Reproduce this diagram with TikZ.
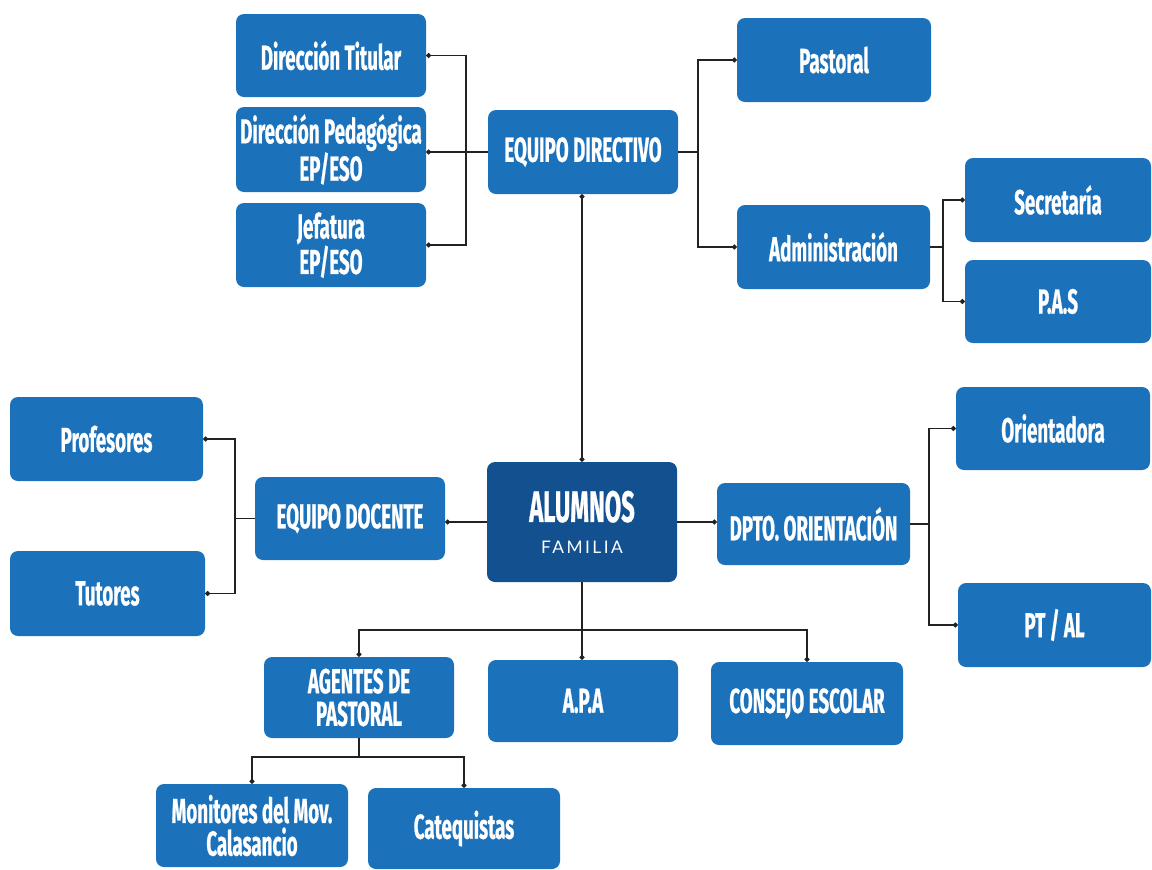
\documentclass[tikz,border=0pt]{standalone}
\usepackage{fontspec}
\usetikzlibrary{arrows.meta}
\newfontfamily\condfont[FakeStretch=0.54,FakeBold=0.6]{Fira Sans}
\newfontfamily\famfont[LetterSpace=14]{Lato}
\definecolor{boxblue}{HTML}{1C72BA}
\definecolor{darkblue}{HTML}{13508F}
\definecolor{linec}{HTML}{222222}
\tikzset{
  box/.style={fill=boxblue, rounded corners=6pt, text=white, inner sep=0pt, align=center,
    font=\condfont\bfseries\fontsize{26}{24.5}\selectfont},
  conn/.style={draw=linec, line width=1.1pt},
  dot/.style={conn, -{Circle[length=3.6pt]}},
  dots/.style={conn, {Circle[length=3.6pt]}-{Circle[length=3.6pt]}}
}
\newcommand\mybox[6][]{%
  \node[box,#1, minimum width={(#4-#2)*0.75pt}, minimum height={(#5-#3)*0.75pt}]
    (#6) at ({(#2+#4)/2},{(#3+#5)/2})}
\begin{document}
\begin{tikzpicture}[x=0.75pt,y=-0.75pt]
\useasboundingbox (0,0) rectangle (1152,869);
\mybox{236}{14}{426}{97}{DT} {Dirección Titular};
\mybox{236}{107}{426}{192}{DP} {Dirección Pedagógica\\EP/ESO};
\mybox{236}{203}{426}{287}{JE} {Jefatura\\EP/ESO};
\mybox{488}{110}{678}{194}{ED} {EQUIPO DIRECTIVO};
\mybox{737}{18}{931}{102}{PA} {Pastoral};
\mybox{737}{205}{930}{289}{AD} {Administración};
\mybox{965}{158}{1151}{242}{SE} {Secretaría};
\mybox{965}{260}{1151}{343}{PS} {P.A.S};
\mybox{10}{397}{203}{481}{PR} {Profesores};
\mybox{10}{551}{205}{636}{TU} {Tutores};
\mybox{255}{477}{445}{560}{EDO} {EQUIPO DOCENTE};
\mybox[fill=darkblue]{487}{462}{677}{582}{AL} {{\fontsize{33}{32}\selectfont ALUMNOS}\\[-1pt]{\famfont\mdseries\fontsize{13}{14}\selectfont FAMILIA}};
\mybox{717}{483}{910}{565}{DO} {DPTO. ORIENTACIÓN};
\mybox{956}{387}{1150}{470}{OR} {Orientadora};
\mybox{958}{583}{1151}{667}{PT} {PT / AL};
\mybox{264}{657}{454}{738}{AG} {AGENTES DE\\PASTORAL};
\mybox{488}{660}{678}{742}{AP} {A.P.A};
\mybox{711}{662}{903}{745}{CE} {CONSEJO ESCOLAR};
\mybox{156}{784}{348}{867}{MO} {Monitores del Mov.\\Calasancio};
\mybox{368}{788}{560}{869}{CA} {Catequistas};
% junctions
\coordinate (j1) at (ED.west -| 466,0);
\coordinate (j2) at (ED.east -| 698,0);
\coordinate (j3) at (AD.east -| 943,0);
\coordinate (j4) at (EDO.west -| 235,0);
\coordinate (j5) at (DO.east -| 929,0);
\coordinate (j6) at (AL.south |- 0,630);
\coordinate (j7) at (AG.south |- 0,757);
% equipo directivo left
\draw[dot] (ED.west) -- (ED.west -| DP.east);
\draw[dot] (j1) |- (DT.east);
\draw[dot] (j1) |- (JE.east);
% equipo directivo right
\draw[conn] (ED.east) -- (j2);
\draw[dot] (j2) |- (PA.west);
\draw[dot] (j2) |- (AD.west);
% administracion
\draw[conn] (AD.east) -- (j3);
\draw[dot] (j3) |- (SE.west);
\draw[dot] (j3) |- (PS.west);
% alumnos - equipo directivo
\draw[dots] (AL.north) -- (AL.north |- ED.south);
% alumnos - equipo docente
\draw[dot] (AL.west) -- (AL.west -| EDO.east);
\draw[conn] (EDO.west) -- (j4);
\draw[dot] (j4) |- (PR.east);
\draw[dot] (j4) |- (TU.east);
% alumnos - dpto orientacion
\draw[dot] (AL.east) -- (AL.east -| DO.west);
\draw[conn] (DO.east) -- (j5);
\draw[dot] (j5) |- (OR.west);
\draw[dot] (j5) |- (PT.west);
% alumnos - bottom
\draw[dot] (AL.south) -- (AL.south |- AP.north);
\draw[dot] (j6) -| (AG.north);
\draw[dot] (j6) -| (CE.north);
% agentes
\draw[conn] (AG.south) -- (j7);
\draw[dot] (j7) -| (MO.north);
\draw[dot] (j7) -| (CA.north);
\end{tikzpicture}
\end{document}
